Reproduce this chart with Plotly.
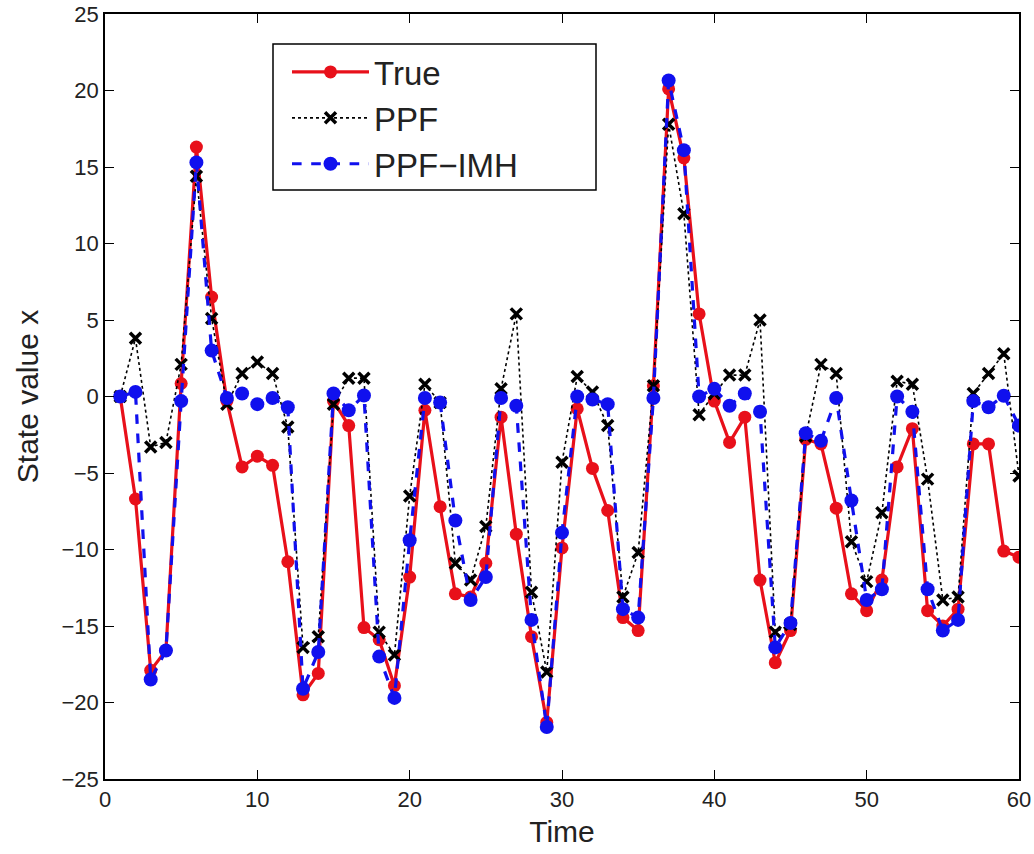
import plotly.graph_objects as go

time = list(range(1, 61))

true_vals = [0, -6.7, -17.9, -16.6, 0.85, 16.3, 6.5, -0.3, -4.6, -3.9,
             -4.5, -10.8, -19.5, -18.1, -0.3, -1.9, -15.1, -15.9, -18.9, -11.8,
             -0.9, -7.2, -12.9, -13.1, -10.9, -1.35, -9.0, -15.7, -21.3, -9.9,
             -0.8, -4.7, -7.45, -14.45, -15.3, 0.7, 20.1, 15.6, 5.4, -0.3,
             -3.0, -1.35, -12.0, -17.4, -15.3, -2.8, -3.1, -7.3, -12.9, -14.0,
             -12.0, -4.6, -2.1, -14.0, -15.0, -13.9, -3.1, -3.1, -10.1, -10.5]

ppf_vals = [0, 3.8, -3.3, -3.0, 2.1, 14.4, 5.1, -0.5, 1.5, 2.25,
            1.5, -2.0, -16.4, -15.7, -0.5, 1.2, 1.2, -15.4, -16.9, -6.5,
            0.8, -0.4, -10.9, -12.0, -8.5, 0.5, 5.4, -12.8, -18.0, -4.3,
            1.3, 0.3, -1.9, -13.1, -10.2, 0.7, 17.8, 11.95, -1.2, 0.2,
            1.4, 1.4, 5.0, -15.4, -14.9, -2.6, 2.1, 1.5, -9.5, -12.1,
            -7.6, 1.0, 0.8, -5.4, -13.3, -13.1, 0.2, 1.5, 2.8, -5.2]

ppf_imh_vals = [0, 0.3, -18.5, -16.6, -0.3, 15.3, 3.0, -0.1, 0.2, -0.5,
                -0.1, -0.7, -19.1, -16.7, 0.2, -0.9, 0.07, -17.0, -19.7, -9.4,
                -0.1, -0.4, -8.1, -13.3, -11.8, -0.1, -0.6, -14.6, -21.6, -8.9,
                0.0, -0.2, -0.5, -13.9, -14.45, -0.1, 20.65, 16.1, 0.0, 0.5,
                -0.6, 0.2, -1.0, -16.4, -14.8, -2.4, -2.9, -0.1, -6.8, -13.3,
                -12.6, 0.0, -1.0, -12.6, -15.3, -14.6, -0.3, -0.7, 0.05, -1.9]

x_ticks = [0, 10, 20, 30, 40, 50, 60]
y_ticks = [-25, -20, -15, -10, -5, 0, 5, 10, 15, 20, 25]

FONT = "Liberation Sans, Arial"
TXT = "#222"

fig = go.Figure()
fig.add_trace(go.Scatter(
    x=time, y=true_vals, name="True", mode="lines+markers",
    line=dict(color="#e8101a", width=3.2),
    marker=dict(symbol="circle", size=13, color="#e8101a")))
fig.add_trace(go.Scatter(
    x=time, y=ppf_vals, name="PPF", mode="lines+markers",
    line=dict(color="black", width=1.6, dash="dot"),
    marker=dict(symbol="x-thin", size=11, color="black",
                line=dict(color="black", width=3.5))))
fig.add_trace(go.Scatter(
    x=time, y=ppf_imh_vals, name="PPF\u2212IMH", mode="lines+markers",
    line=dict(color="#1010ee", width=3.2, dash="dash"),
    marker=dict(symbol="circle", size=14, color="#1010ee")))

axis_common = dict(
    showgrid=False, zeroline=False, showline=True, linecolor="black",
    linewidth=1.5, mirror="ticks", ticks="inside", ticklen=9,
    tickcolor="black", tickwidth=1.2, automargin=False,
    tickfont=dict(family=FONT, size=22, color=TXT),
)

fig.update_xaxes(range=[0, 60], tickvals=x_ticks,
                 title=dict(text="Time", font=dict(family=FONT, size=30, color=TXT), standoff=10),
                 **axis_common)
fig.update_yaxes(range=[-25, 25], tickvals=y_ticks,
                 ticktext=[str(v).replace("-", "\u2212") for v in y_ticks],
                 title=dict(text="State value x", font=dict(family=FONT, size=30, color=TXT), standoff=14),
                 **axis_common)

# legend frame (MATLAB style box wider than its entries)
fig.add_shape(type="rect", xref="paper", yref="paper",
              x0=(273 - 105) / 914, x1=(596 - 105) / 914,
              y0=(779 - 190) / 765, y1=(779 - 44) / 765,
              line=dict(color="black", width=1.5), fillcolor="white", layer="above")

fig.update_layout(
    width=1034, height=854,
    margin=dict(l=105, r=15, t=14, b=75),
    paper_bgcolor="white", plot_bgcolor="white",
    legend=dict(x=(287 - 105) / 914, y=(779 - 44) / 765, xanchor="left", yanchor="top",
                borderwidth=0, bgcolor="rgba(0,0,0,0)",
                font=dict(family=FONT, size=33, color=TXT),
                itemwidth=77, tracegroupgap=0),
    showlegend=True,
)

fig.write_html("out.html")
